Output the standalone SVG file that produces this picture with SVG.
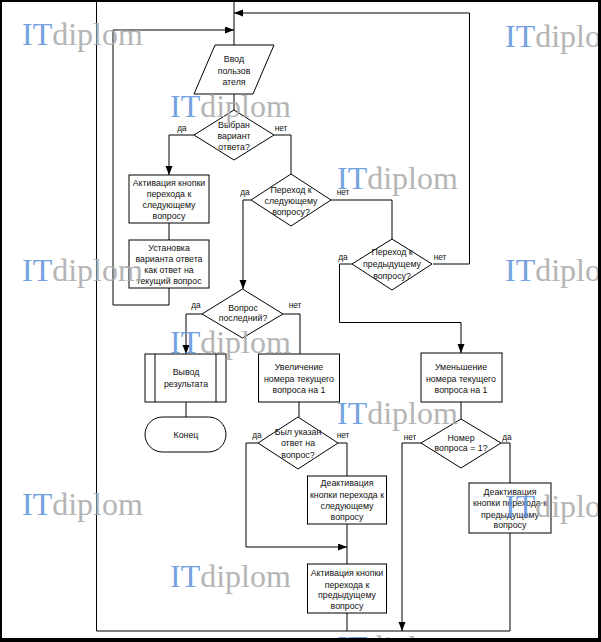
<svg xmlns="http://www.w3.org/2000/svg" width="601" height="642" viewBox="0 0 601 642">
<style>
.s{fill:#fff;stroke:#000;stroke-width:1}
.t{font-family:"Liberation Sans",Arial,sans-serif;font-size:8.8px;fill:#111;text-anchor:middle}
.l{font-family:"Liberation Sans",Arial,sans-serif;font-size:8.3px;fill:#111;text-anchor:middle}
.c{fill:none;stroke:#000;stroke-width:1}
.wm{font-family:"Liberation Serif","Times New Roman",serif;font-size:32px}
.wi{fill:#5e93dc}
.wd{fill:#a9a9a9}
</style>
<defs>
<marker id="ah" markerUnits="userSpaceOnUse" markerWidth="10" markerHeight="8" refX="9" refY="3.5" orient="auto">
<path d="M0,0 L9,3.5 L0,7 z" fill="#000"/>
</marker>
</defs>
<rect width="601" height="642" fill="#fff"/>
<g id="connectors">
<path class="c" d="M96.5,0 V631 H510"/>
<path class="c" d="M234,0 V45"/>
<path class="c" d="M433,264 H469.5 V13 H234" marker-end="url(#ah)"/>
<path class="c" d="M169,288 V305 H113 V30 H234" marker-end="url(#ah)"/>
<path class="c" d="M234,94 V110"/>
<path class="c" d="M194,135 H169 V175" marker-end="url(#ah)"/>
<path class="c" d="M169,223 V240"/>
<path class="c" d="M274,135 H291 V174"/>
<path class="c" d="M251,200 H243 V289" marker-end="url(#ah)"/>
<path class="c" d="M331,200 H392 V239"/>
<path class="c" d="M352,264 H339.5 V322.5 H461 V353" marker-end="url(#ah)"/>
<path class="c" d="M202,314 H186 V354" marker-end="url(#ah)"/>
<path class="c" d="M283,314 H300 V354"/>
<path class="c" d="M186,402 V417"/>
<path class="c" d="M299,402 V417"/>
<path class="c" d="M258,443 H246 V547 H347" marker-end="url(#ah)"/>
<path class="c" d="M338,443 H347 V476"/>
<path class="c" d="M347,524 V564"/>
<path class="c" d="M347,613 V631"/>
<path class="c" d="M461,402 V419"/>
<path class="c" d="M422,443 H402 V631" marker-end="url(#ah)"/>
<path class="c" d="M501,443 H510 V483"/>
<path class="c" d="M510,533 V631"/>
</g>
<g id="input">
<path class="s" d="M215,45 H274 L253,94 H194 Z"/>
<text class="t"><tspan x="234" y="62">Ввод</tspan><tspan x="234" y="74">пользов</tspan><tspan x="234" y="85">ателя</tspan></text>
</g>
<g id="d-selected">
<path class="s" d="M234,110 L274,135 L234,160 L194,135 Z"/>
<text class="t"><tspan x="234" y="128">Выбран</tspan><tspan x="234" y="139">вариант</tspan><tspan x="234" y="150">ответа?</tspan></text>
<text class="l" x="182" y="131">да</text>
<text class="l" x="281" y="131">нет</text>
</g>
<g id="b-activate-next">
<rect class="s" x="129" y="175" width="80" height="48"/>
<text class="t"><tspan x="169" y="186">Активация кнопки</tspan><tspan x="169" y="197">перехода к</tspan><tspan x="169" y="208">следующему</tspan><tspan x="169" y="219">вопросу</tspan></text>
</g>
<g id="b-set-answer">
<rect class="s" x="129" y="240" width="80" height="48"/>
<text class="t"><tspan x="169" y="251">Установка</tspan><tspan x="169" y="262">варианта ответа</tspan><tspan x="169" y="273">как ответ на</tspan><tspan x="169" y="284">текущий вопрос</tspan></text>
</g>
<g id="d-next">
<path class="s" d="M291,174 L331,200 L291,226 L251,200 Z"/>
<text class="t"><tspan x="291" y="193">Переход к</tspan><tspan x="291" y="204">следующему</tspan><tspan x="291" y="215">вопросу?</tspan></text>
<text class="l" x="245" y="195">да</text>
<text class="l" x="343" y="195">нет</text>
</g>
<g id="d-prev">
<path class="s" d="M392,239 L432,264 L392,290 L352,264 Z"/>
<text class="t"><tspan x="392" y="255">Переход  к</tspan><tspan x="392" y="267">предыдущему</tspan><tspan x="392" y="279">вопросу?</tspan></text>
<text class="l" x="343" y="260">да</text>
<text class="l" x="440" y="260">нет</text>
</g>
<g id="d-last">
<path class="s" d="M242.5,289 L283,314 L242.5,338 L202,314 Z"/>
<text class="t"><tspan x="243" y="311">Вопрос</tspan><tspan x="243" y="321">последний?</tspan></text>
<text class="l" x="196" y="308">да</text>
<text class="l" x="295" y="308">нет</text>
</g>
<g id="p-output">
<rect class="s" x="145" y="354" width="81" height="48"/>
<path class="c" d="M155,354 V402 M216,354 V402"/>
<text class="t"><tspan x="186" y="375">Вывод</tspan><tspan x="186" y="387">результата</tspan></text>
</g>
<g id="t-end">
<rect class="s" x="145" y="417" width="81" height="35" rx="17.5"/>
<text class="t" x="186" y="438">Конец</text>
</g>
<g id="b-increase">
<rect class="s" x="258.5" y="354" width="81" height="48"/>
<text class="t"><tspan x="299" y="370">Увеличение</tspan><tspan x="299" y="381.5">номера текущего</tspan><tspan x="299" y="393">вопроса на 1</tspan></text>
</g>
<g id="d-answered">
<path class="s" d="M298,417 L338,443 L298,469 L258,443 Z"/>
<text class="t"><tspan x="298" y="435">Был указан</tspan><tspan x="298" y="446">ответ на</tspan><tspan x="298" y="458">вопрос?</tspan></text>
<text class="l" x="257" y="438">да</text>
<text class="l" x="343" y="438">нет</text>
</g>
<g id="b-deactivate-next">
<rect class="s" x="307.5" y="476" width="79" height="48"/>
<text class="t"><tspan x="347" y="486">Деактивация</tspan><tspan x="347" y="497.5">кнопки перехода к</tspan><tspan x="347" y="509">следующему</tspan><tspan x="347" y="520">вопросу</tspan></text>
</g>
<g id="b-activate-prev">
<rect class="s" x="307.5" y="564" width="79" height="49"/>
<text class="t"><tspan x="347" y="576">Активация кнопки</tspan><tspan x="347" y="587.5">перехода к</tspan><tspan x="347" y="598">предыдущему</tspan><tspan x="347" y="609">вопросу</tspan></text>
</g>
<g id="b-decrease">
<rect class="s" x="421" y="353" width="81" height="49"/>
<text class="t"><tspan x="461" y="370">Уменьшение</tspan><tspan x="461" y="381.5">номера текущего</tspan><tspan x="461" y="393">вопроса на 1</tspan></text>
</g>
<g id="d-first">
<path class="s" d="M461,419 L501,443 L461,468 L421,443 Z"/>
<text class="t"><tspan x="461" y="440.5">Номер</tspan><tspan x="461" y="450.5">вопроса = 1?</tspan></text>
<text class="l" x="410" y="440">нет</text>
<text class="l" x="507" y="440">да</text>
</g>
<g id="b-deactivate-prev">
<rect class="s" x="469" y="483" width="82" height="50"/>
<text class="t"><tspan x="510" y="494.5">Деактивация</tspan><tspan x="510" y="505.5">кнопки перехода к</tspan><tspan x="510" y="517.5">предыдущему</tspan><tspan x="510" y="528">вопросу</tspan></text>
</g>
<g id="watermarks" class="wm" opacity="0.85">
<text x="22" y="45"><tspan class="wi">IT</tspan><tspan class="wd">diplom</tspan></text>
<text x="505" y="47"><tspan class="wi">IT</tspan><tspan class="wd">diplom</tspan></text>
<text x="170" y="117"><tspan class="wi">IT</tspan><tspan class="wd">diplom</tspan></text>
<text x="337" y="189"><tspan class="wi">IT</tspan><tspan class="wd">diplom</tspan></text>
<text x="22" y="281"><tspan class="wi">IT</tspan><tspan class="wd">diplom</tspan></text>
<text x="505" y="281"><tspan class="wi">IT</tspan><tspan class="wd">diplom</tspan></text>
<text x="170" y="353"><tspan class="wi">IT</tspan><tspan class="wd">diplom</tspan></text>
<text x="337" y="424"><tspan class="wi">IT</tspan><tspan class="wd">diplom</tspan></text>
<text x="22" y="515"><tspan class="wi">IT</tspan><tspan class="wd">diplom</tspan></text>
<text x="505" y="517"><tspan class="wi">IT</tspan><tspan class="wd">diplom</tspan></text>
<text x="170" y="587"><tspan class="wi">IT</tspan><tspan class="wd">diplom</tspan></text>
<text x="337" y="658"><tspan class="wi">IT</tspan><tspan class="wd">diplom</tspan></text>
</g>
<g id="frame" fill="#000">
<rect x="0" y="0" width="601" height="2"/>
<rect x="0" y="0" width="2" height="642"/>
<rect x="598" y="0" width="3" height="642"/>
<rect x="0" y="638" width="601" height="4"/>
</g>
</svg>
